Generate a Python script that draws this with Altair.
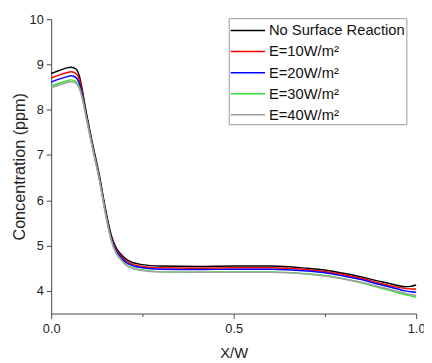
import altair as alt
import pandas as pd

x_pos = [0.0, 0.02, 0.04, 0.055, 0.068, 0.078, 0.085, 0.093, 0.111, 0.134, 0.147, 0.165,
         0.178, 0.19, 0.205, 0.225, 0.25, 0.3, 0.4, 0.5, 0.6, 0.7, 0.75, 0.8, 0.85, 0.9,
         0.95, 0.97, 0.985, 1.0]

series_names = ["No Surface Reaction", "E=10W/m²", "E=20W/m²", "E=30W/m²", "E=40W/m²"]

black = [8.80, 8.86, 8.92, 8.94, 8.90, 8.72, 8.45, 8.08, 7.34, 6.47, 5.88, 5.22, 4.95, 4.82, 4.70,
         4.62, 4.58, 4.55, 4.54, 4.55, 4.55, 4.50, 4.46, 4.39, 4.31, 4.21, 4.12, 4.09, 4.10, 4.13]
red = [8.70, 8.76, 8.81, 8.84, 8.80, 8.64, 8.40, 8.04, 7.31, 6.44, 5.85, 5.18, 4.91, 4.78, 4.66,
       4.58, 4.54, 4.51, 4.50, 4.51, 4.51, 4.47, 4.43, 4.36, 4.28, 4.17, 4.08, 4.05, 4.04, 4.04]
blue = [8.61, 8.67, 8.72, 8.75, 8.71, 8.56, 8.34, 8.00, 7.28, 6.41, 5.82, 5.15, 4.88, 4.75, 4.63,
        4.55, 4.51, 4.48, 4.47, 4.48, 4.48, 4.44, 4.40, 4.33, 4.25, 4.14, 4.04, 4.00, 3.98, 3.97]
green = [8.52, 8.58, 8.63, 8.66, 8.62, 8.48, 8.28, 7.96, 7.25, 6.38, 5.79, 5.11, 4.84, 4.71, 4.58,
         4.50, 4.46, 4.42, 4.41, 4.42, 4.42, 4.38, 4.34, 4.27, 4.18, 4.07, 3.96, 3.92, 3.89, 3.86]
gray = [8.48, 8.54, 8.59, 8.62, 8.58, 8.45, 8.26, 7.95, 7.24, 6.37, 5.78, 5.10, 4.83, 4.70, 4.57,
        4.49, 4.45, 4.42, 4.41, 4.41, 4.41, 4.37, 4.33, 4.27, 4.19, 4.09, 3.99, 3.95, 3.92, 3.90]

colors = ["#000000", "#ff0000", "#0000ff", "#33dd33", "#a0a0a0"]

x_ticks = [0.0, 0.25, 0.5, 0.75, 1.0]
y_ticks = [4.0, 4.5, 5.0, 5.5, 6.0, 6.5, 7.0, 7.5, 8.0, 8.5, 9.0, 9.5, 10.0]

rows = []
for name, vals in zip(series_names, [black, red, blue, green, gray]):
    for xv, yv in zip(x_pos, vals):
        rows.append({"x": xv, "c": yv, "series": name})
df = pd.DataFrame(rows)

FONT = "Liberation Sans"

chart = alt.Chart(df).mark_line(strokeWidth=1.5, interpolate="monotone").encode(
    x=alt.X("x:Q",
            scale=alt.Scale(domain=[0, 1], nice=False, zero=False),
            axis=alt.Axis(title="X/W", values=x_ticks, format=".1f",
                          labelExpr="(datum.value * 2) % 1 === 0 ? datum.label : ''",
                          tickSize={"condition": {"test": "(datum.value * 2) % 1 === 0", "value": 5}, "value": 3},
                          labelFlush=False, grid=False, domainColor="#444", tickColor="#444",
                          labelFont=FONT, labelFontSize=13, labelColor="#222", labelPadding=4,
                          titleFont=FONT, titleFontSize=15, titleFontWeight="normal",
                          titleColor="#222", titlePadding=11)),
    y=alt.Y("c:Q",
            scale=alt.Scale(domain=[3.5, 10], nice=False, zero=False),
            axis=alt.Axis(title="Concentration (ppm)", values=y_ticks, format="d",
                          labelExpr="datum.value % 1 === 0 ? datum.label : ''",
                          tickSize={"condition": {"test": "datum.value % 1 === 0", "value": 5}, "value": 3},
                          labelFlush=False, grid=False, domainColor="#444", tickColor="#444",
                          labelFont=FONT, labelFontSize=13, labelColor="#222", labelPadding=3,
                          titleFont=FONT, titleFontSize=16.5, titleFontWeight="normal",
                          titleColor="#222", titlePadding=2)),
    color=alt.Color("series:N",
                    scale=alt.Scale(domain=series_names, range=colors),
                    sort=series_names,
                    legend=alt.Legend(title=None, orient="none", legendX=181, legendY=-1,
                                      symbolType="M-1.667,0H1.667", symbolSize=441,
                                      symbolStrokeWidth=1.5, symbolOffset=7,
                                      labelFont=FONT, labelFontSize=15, labelColor="#111",
                                      labelOffset=10, rowPadding=1.5, padding=1,
                                      strokeColor="#999", fillColor="white")),
).properties(
    width=372, height=300,
    padding={"left": 44, "top": 8, "right": 8, "bottom": 46},
    autosize=alt.AutoSizeParams(type="none"),
).configure_view(stroke=None)

chart.save("out.html", embed_options={"renderer": "svg", "actions": False})
